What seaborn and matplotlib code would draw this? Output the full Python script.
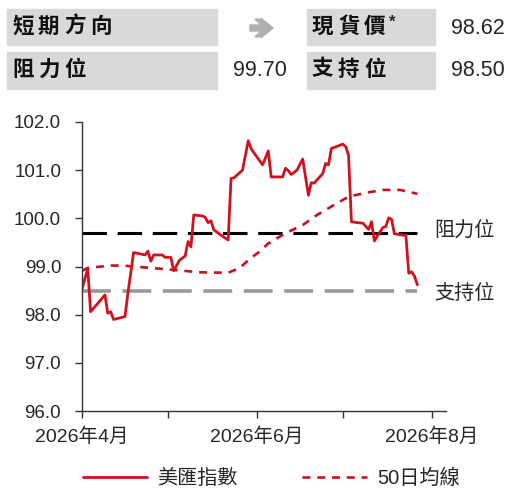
import pandas as pd
import seaborn as sns
import matplotlib.pyplot as plt
from matplotlib.patches import Rectangle, Polygon

# data
price_dates = ['2026-04-01', '2026-04-03', '2026-04-04', '2026-04-09', '2026-04-10', '2026-04-11',
               '2026-04-12', '2026-04-16', '2026-04-17', '2026-04-19', '2026-04-23', '2026-04-24',
               '2026-04-25', '2026-04-26', '2026-04-29', '2026-04-30', '2026-05-02', '2026-05-03',
               '2026-05-05', '2026-05-07', '2026-05-08', '2026-05-09', '2026-05-10', '2026-05-13',
               '2026-05-14', '2026-05-15', '2026-05-16', '2026-05-17', '2026-05-20', '2026-05-22',
               '2026-05-23', '2026-05-24', '2026-05-27', '2026-05-29', '2026-05-30', '2026-05-31',
               '2026-06-03', '2026-06-05', '2026-06-06', '2026-06-10', '2026-06-11', '2026-06-12',
               '2026-06-13', '2026-06-15', '2026-06-17', '2026-06-19', '2026-06-20', '2026-06-21',
               '2026-06-24', '2026-06-25', '2026-06-26', '2026-06-27', '2026-07-01', '2026-07-02',
               '2026-07-03', '2026-07-04', '2026-07-06', '2026-07-08', '2026-07-10', '2026-07-11',
               '2026-07-12', '2026-07-14', '2026-07-15', '2026-07-16', '2026-07-17', '2026-07-18',
               '2026-07-19', '2026-07-22', '2026-07-23', '2026-07-24', '2026-07-25', '2026-07-26',
               '2026-07-27']
price_values = [98.53, 98.96, 98.06, 98.41, 98.03, 98.06,
                97.90, 97.96, 98.44, 99.29, 99.24, 99.32,
                99.11, 99.24, 99.24, 99.19, 99.19, 98.91,
                99.13, 99.22, 99.52, 99.41, 100.07, 100.05,
                100.02, 99.91, 99.95, 99.76, 99.63, 99.55,
                100.83, 100.84, 101.00, 101.61, 101.45, 101.36,
                101.11, 101.40, 100.86, 100.86, 101.04, 100.99,
                100.91, 101.00, 101.23, 100.48, 100.74, 100.73,
                100.93, 101.14, 101.11, 101.45, 101.54, 101.49,
                101.31, 99.93, 99.91, 99.90, 99.77, 99.93,
                99.53, 99.72, 99.81, 99.83, 100.01, 99.98,
                99.68, 99.65, 99.65, 98.86, 98.89, 98.80,
                98.62]

ma_dates = ['2026-04-01', '2026-04-03', '2026-04-11', '2026-04-15', '2026-04-19', '2026-04-25',
            '2026-05-03', '2026-05-12', '2026-05-22', '2026-05-26', '2026-05-30', '2026-06-02',
            '2026-06-05', '2026-06-11', '2026-06-17', '2026-06-22', '2026-06-28', '2026-07-03',
            '2026-07-09', '2026-07-15', '2026-07-21', '2026-07-27']
ma_values = [98.91, 98.97, 99.02, 99.02, 99.00, 98.97,
             98.93, 98.88, 98.87, 98.97, 99.18, 99.31,
             99.48, 99.69, 99.86, 100.07, 100.28, 100.45,
             100.53, 100.59, 100.59, 100.51]

resistance = 99.70
support = 98.50
spot = 98.62
level_span = ['2026-04-01', '2026-07-27']

y_ticks = [96.0, 97.0, 98.0, 99.0, 100.0, 101.0, 102.0]
x_ticks = ['2026-04-01', '2026-05-01', '2026-06-01', '2026-07-01', '2026-08-01']
x_labels = ['2026年4月', '', '2026年6月', '', '2026年8月']

price_df = pd.DataFrame({'date': pd.to_datetime(price_dates), 'value': price_values})
ma_df = pd.DataFrame({'date': pd.to_datetime(ma_dates), 'value': ma_values})
span = pd.to_datetime(level_span)

sns.set_style('ticks')
fonts = ['Liberation Sans', 'Noto Sans CJK TC']
plt.rcParams['font.family'] = fonts

W, H = 511, 492
fig = plt.figure(figsize=(W / 100, H / 100), dpi=100)
ax = fig.add_axes([82 / W, 1 - 411 / H, (446 - 82) / W, (411 - 122) / H])

red = '#d0121f'
sns.lineplot(x=span, y=[resistance, resistance], ax=ax, color='black', lw=2.2,
             linestyle=(0, (8, 3.5)))
sns.lineplot(x=span, y=[support, support], ax=ax, color='#999999', lw=2.6,
             linestyle=(0, (8, 3.2)))
sns.lineplot(data=ma_df, x='date', y='value', ax=ax, color='#c8101e', lw=1.9,
             linestyle=(0, (3, 2.6)), label='50日均線')
sns.lineplot(data=price_df, x='date', y='value', ax=ax, color=red, lw=2.0,
             label='美匯指數')

ax.set_ylim(96, 102)
ax.set_yticks(y_ticks)
ax.set_yticklabels([f'{v:.1f}' for v in y_ticks])
ax.set_xlim(pd.Timestamp('2026-04-01'), pd.Timestamp('2026-08-06'))
ax.set_xticks(pd.to_datetime(x_ticks))
ax.set_xticklabels(x_labels)
ax.set_xlabel('')
ax.set_ylabel('')
ax.tick_params(axis='both', length=5, width=1, color='#333333')
ax.tick_params(axis='y', labelsize=13.5, pad=10)
ax.tick_params(axis='x', labelsize=14, pad=7)
for s in ['left', 'bottom']:
    ax.spines[s].set_color('#333333')
    ax.spines[s].set_linewidth(1)
sns.despine(ax=ax)
ax.get_legend().remove()

label_x = pd.Timestamp('2026-08-02')
ax.text(label_x, 99.76, '阻力位', fontsize=14.5, va='center', ha='left', clip_on=False)
ax.text(label_x, 98.45, '支持位', fontsize=14.5, va='center', ha='left', clip_on=False)

# legend at the bottom
handles, labels = ax.get_legend_handles_labels()
order = [labels.index('美匯指數'), labels.index('50日均線')]
fig.legend([handles[i] for i in order], [labels[i] for i in order], ncol=2,
           loc='center left', bbox_to_anchor=(83 / W, 1 - 478 / H), frameon=False,
           fontsize=14.5, handlelength=3.2, handletextpad=0.5, columnspacing=3.2,
           borderpad=0, borderaxespad=0)

# header table
def fx(px):
    return px / W

def fy(py):
    return 1 - py / H

box_color = '#d9d9d9'
for x0, x1, y0, y1 in [(7, 217, 9, 45), (307, 435, 9, 45), (7, 217, 52, 89), (307, 435, 52, 89)]:
    fig.patches.append(Rectangle((fx(x0), fy(y1)), fx(x1) - fx(x0), fy(y0) - fy(y1),
                                 transform=fig.transFigure, color=box_color, zorder=0))

def spaced(text, x0, yc, step=26):
    for i, ch in enumerate(text):
        fig.text(fx(x0 + i * step), fy(yc), ch, fontsize=15.5, fontweight='bold',
                 va='center', ha='left', color='#111111')

spaced('短期方向', 12, 27)
spaced('阻力位', 12, 70)
spaced('現貨價', 312, 27)
fig.text(fx(389), fy(22), '*', fontsize=12, fontweight='bold', va='center', ha='left')
spaced('支持位', 312, 70)

# grey direction arrow
arrow_pts = [(250, 25), (261, 25), (255, 19), (262, 19), (273, 28), (262, 37),
             (255, 37), (261, 31), (250, 31)]
fig.patches.append(Polygon([(fx(a), fy(b)) for a, b in arrow_pts], closed=True,
                           transform=fig.transFigure, color='#b0b0b0'))

fig.text(fx(505), fy(28), f'{spot:.2f}', fontsize=15.5, va='center', ha='right')
fig.text(fx(287), fy(71), f'{resistance:.2f}', fontsize=15.5, va='center', ha='right')
fig.text(fx(505), fy(71), f'{support:.2f}', fontsize=15.5, va='center', ha='right')

fig.savefig('out.png', dpi=100)
